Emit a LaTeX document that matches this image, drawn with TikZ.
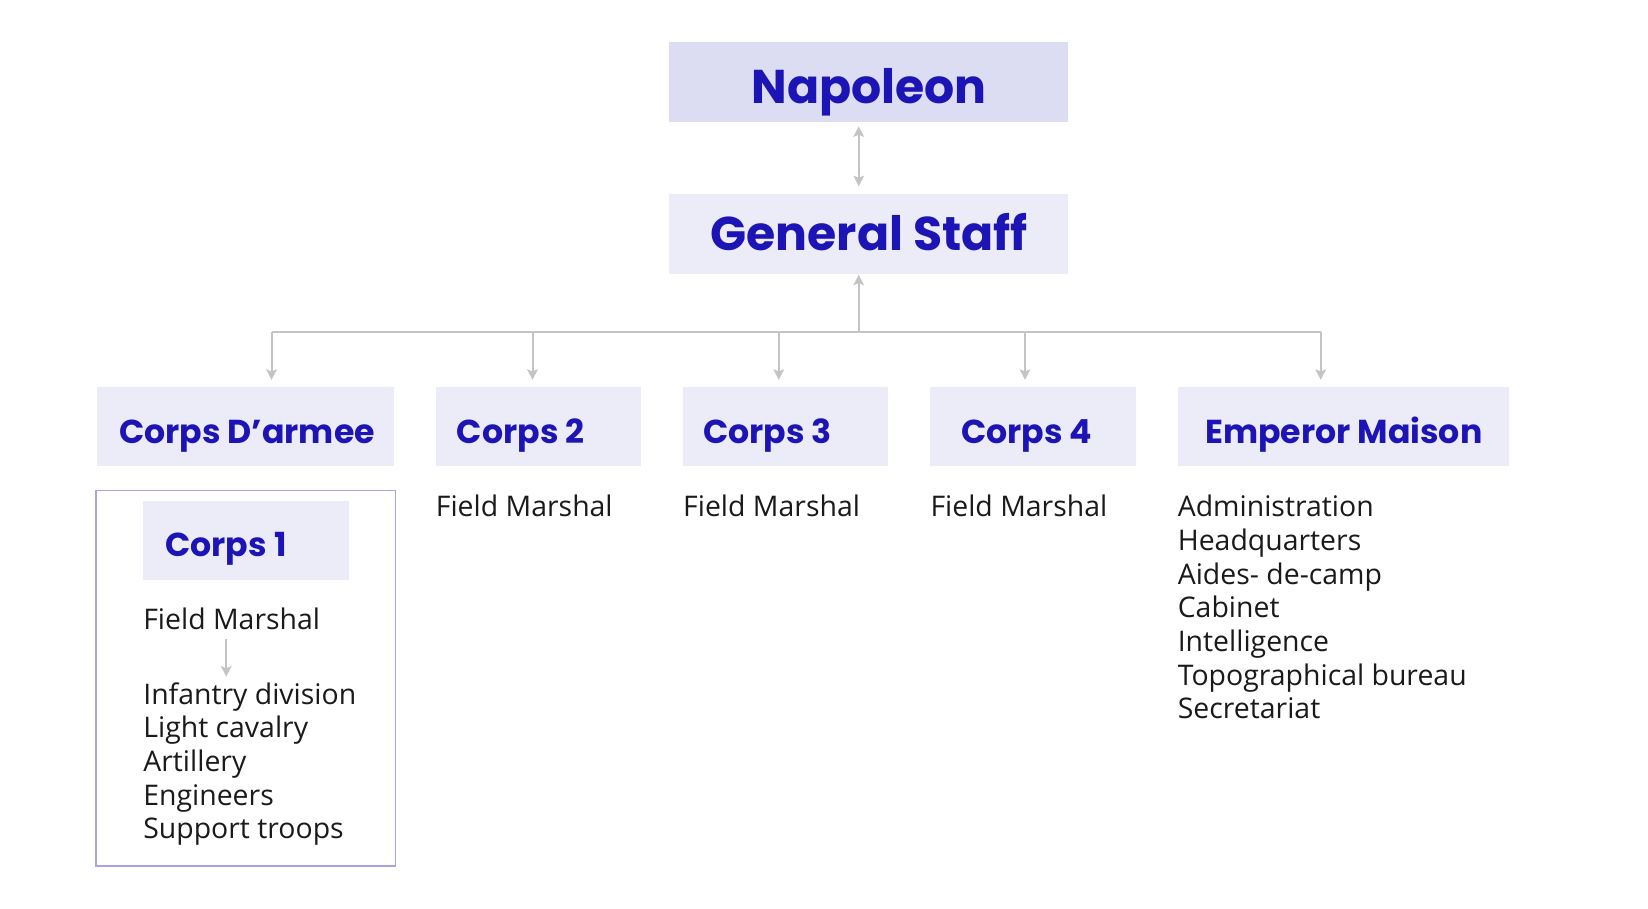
\documentclass[tikz,border=0pt]{standalone}
\usepackage{fontspec}
\setmainfont{Open Sans}
\newfontfamily\headfont{Poppins}
\usetikzlibrary{arrows.meta}
\definecolor{hdark}{HTML}{DCDCF2}
\definecolor{hlight}{HTML}{ECECF8}
\definecolor{htext}{HTML}{1C14B4}
\definecolor{lgray}{HTML}{C4C4C4}
\definecolor{frame}{HTML}{A9A3E3}
\definecolor{body}{HTML}{1A1A1A}
\begin{document}
\begin{tikzpicture}[x=1pt,y=-1pt,
  box/.style={fill=hlight,draw=none,inner sep=0pt},
  bigtext/.style={inner sep=0pt,anchor=base,text=htext,font=\headfont\bfseries\fontsize{45}{50}\selectfont},
  midtext/.style={inner sep=0pt,anchor=base west,text=htext,font=\headfont\bfseries\fontsize{31.5}{36}\selectfont},
  item/.style={inner sep=0pt,anchor=base west,text=body,font=\fontsize{27}{32}\selectfont},
  tip/.tip={Stealth[length=10pt,width=10pt,inset=2pt]},
  conn/.style={draw=lgray,line width=1.9pt,-tip},
]
\useasboundingbox (0,0) rectangle (1566,863);
% top boxes
\path[fill=hdark] (636,40) rectangle (1015,116);
\coordinate (napB) at (816,120);
\coordinate (gsT) at (816,177);
\coordinate (gsB) at (816,261);
\path[fill=hlight] (636,184) rectangle (1015,260);
\node[bigtext] (nap) at (826,98) {Napoleon};
\node[bigtext] (gs) at (826,238) {General Staff};
\draw[draw=lgray,line width=1.9pt,tip-tip] (napB) -- (gsT);
% hub
\coordinate (hub) at (816,315);
\coordinate (hl) at (258,315);
\coordinate (hr) at (1255,315);
\draw[conn] (hub) -- (gsB);
\draw[draw=lgray,line width=1.9pt] (hl) -- (hr);
% second row boxes
\path[box] (92,368) rectangle (374,443);
\path[box] (414,368) rectangle (609,443);
\path[box] (649,368) rectangle (844,443);
\path[box] (884,368) rectangle (1079,443);
\path[box] (1119,368) rectangle (1434,443);
\node[midtext] (cda) at (113,421) {Corps D’armee};
\node[midtext] (c2) at (434,421) {Corps 2};
\node[midtext] (c3) at (668,421) {Corps 3};
\node[midtext] (c4) at (913,421) {Corps 4};
\node[midtext] (em) at (1145,421) {Emperor Maison};
\foreach \x/\n in {258/a,506/b,740/c,974/d,1255/e}{
  \coordinate (t\n) at (\x,315);
  \coordinate (d\n) at (\x,361);
  \draw[conn] (t\n) -- (d\n);
}
% field marshals
\node[item] (fm2) at (414,491) {Field Marshal};
\node[item] (fm3) at (649,491) {Field Marshal};
\node[item] (fm4) at (884,491) {Field Marshal};
% emperor list
\foreach \t [count=\i] in {Administration,Headquarters,Aides- de-camp,Cabinet,Intelligence,Topographical bureau,Secretariat}{
  \node[item] (em\i) at (1119,{491+32*(\i-1)}) {\t};
}
% corps 1 frame
\draw[draw=frame,line width=1.5pt] (91,466) rectangle (376,823);
\path[box] (136,476) rectangle (332,551);
\node[midtext] (c1) at (157,529) {Corps 1};
\node[item] (fm1) at (136,598) {Field Marshal};
\coordinate (sa) at (215,607);
\coordinate (sb) at (215,643);
\draw[conn,line width=1.6pt] (sa) -- (sb);
\foreach \t [count=\i] in {Infantry division,Light cavalry,Artillery,Engineers,Support troops}{
  \node[item] (cl\i) at (136,{669+32*(\i-1)}) {\t};
}
\end{tikzpicture}
\end{document}
